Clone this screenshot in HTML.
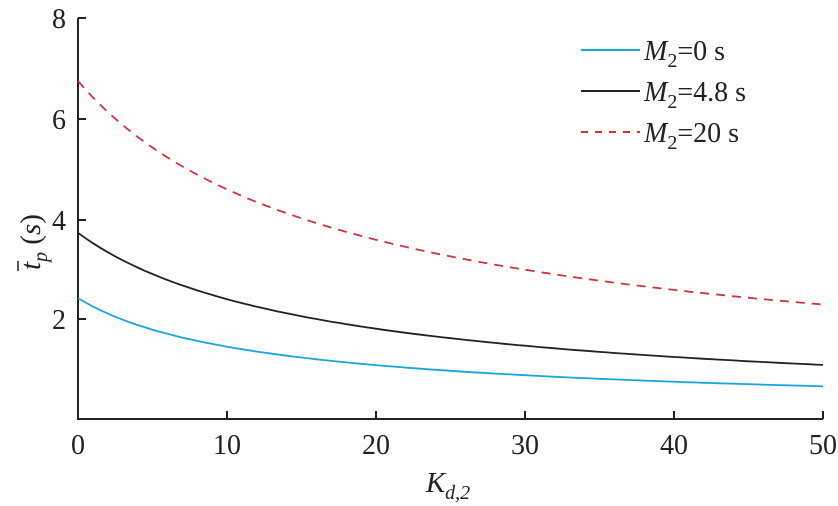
<!DOCTYPE html>
<html><head><style>
body{margin:0;background:#fff}
svg{display:block;font-family:"Liberation Serif",serif}
</style></head><body>
<svg id="s" width="838" height="506" viewBox="0 0 838 506">
<g stroke="#222" stroke-width="2" fill="none">
<path d="M78,18 V419 H823"/>
<path d="M78,319 h8 M78,220 h8 M78,119 h8 M78,18 h8 M227,419 v-8 M376,419 v-8 M525,419 v-8 M674,419 v-8 M823,419 v-8"/>
</g>
<g font-size="28" fill="#222" text-anchor="end">
<text x="66" y="329">2</text><text x="66" y="230">4</text><text x="66" y="129">6</text><text x="66" y="28">8</text>
</g>
<g font-size="28" fill="#222" text-anchor="middle">
<text x="78" y="454">0</text><text x="227" y="454">10</text><text x="376" y="454">20</text><text x="525" y="454">30</text><text x="674" y="454">40</text><text x="823" y="454">50</text>
<text x="448" y="492" font-style="italic" font-size="29">K<tspan font-size="20" dy="7" font-style="italic">d,2</tspan></text>
</g>
<g transform="translate(40,220) rotate(-90)" font-size="29" fill="#222">
<text x="-50" y="0"><tspan font-style="italic">t</tspan><tspan font-size="20" dy="7" font-style="italic">p</tspan><tspan dy="-7"> (</tspan><tspan font-style="italic">s</tspan>)</text>
<line x1="-51" y1="-22" x2="-41" y2="-22" stroke="#222" stroke-width="1.5"/>
</g>
<path id="b" fill="none" stroke="#1aa6dc" stroke-width="1.8"/>
<path id="k" fill="none" stroke="#222" stroke-width="1.8"/>
<path id="r" fill="none" stroke="#d0343a" stroke-width="1.8" stroke-dasharray="9,7"/>
<g stroke-width="2">
<line x1="581" y1="50" x2="640" y2="50" stroke="#1aa6dc"/>
<line x1="581" y1="91" x2="640" y2="91" stroke="#222"/>
<line x1="581" y1="132" x2="640" y2="132" stroke="#d0343a" stroke-dasharray="7,7"/>
</g>
<g font-size="28" fill="#222">
<text x="644" y="60"><tspan font-style="italic">M</tspan><tspan font-size="20" dy="7">2</tspan><tspan dy="-7">=0 s</tspan></text>
<text x="644" y="101"><tspan font-style="italic">M</tspan><tspan font-size="20" dy="7">2</tspan><tspan dy="-7">=4.8 s</tspan></text>
<text x="644" y="142"><tspan font-style="italic">M</tspan><tspan font-size="20" dy="7">2</tspan><tspan dy="-7">=20 s</tspan></text>
</g>
<script>
function mk(id,a,k0,p){var d="";for(var i=0;i<=100;i++){var K=i/2,v=a/Math.pow(1+K/k0,p);var x=78+K*14.9,y=419.5-v*50.15;d+=(i?"L":"M")+x.toFixed(1)+","+y.toFixed(1);}document.getElementById(id).setAttribute("d",d);}
mk("b",2.42,9.3,0.7);mk("k",3.72,13.7,0.8);mk("r",6.75,13.6,0.7);
</script>
</svg>
</body></html>
